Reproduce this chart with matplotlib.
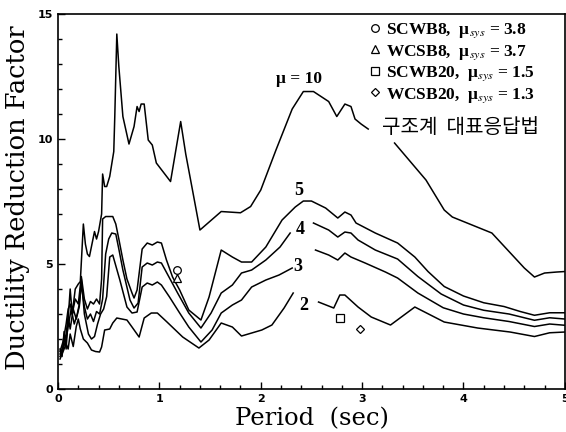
import numpy as np
import matplotlib
matplotlib.use('Agg')
import matplotlib.pyplot as plt
from matplotlib.ticker import MultipleLocator

nan = np.nan

# mu = 10
mu10_T = [0.02, 0.04, 0.06, 0.08, 0.10, 0.12, 0.14, 0.17, 0.20, 0.22, 0.25, 0.27, 0.29, 0.31, 0.34, 0.36,
          0.38, 0.40, 0.43, 0.44, 0.46, 0.48, 0.51, 0.53, 0.55, 0.56, 0.58, 0.60, 0.64, 0.70, 0.75, 0.78,
          0.80, 0.82, 0.85, 0.89, 0.93, 0.97, 1.11, 1.21, 1.26, 1.32, 1.40, 1.61, 1.80, 1.90, 2.00, 2.15,
          2.31, 2.42, 2.52, 2.67, 2.75, 2.83, 2.89, 2.93, 2.99, 3.06, nan, 3.32, 3.63, 3.81, 3.89, 4.28,
          4.60, 4.70, 4.80, 4.92, 5.00]
mu10_R = [1.6, 1.3, 2.3, 1.6, 2.8, 4.0, 3.0, 4.0, 4.2, 4.3, 6.6, 5.8, 5.4, 5.3, 5.9, 6.3,
          6.0, 6.3, 7.0, 8.6, 8.1, 8.1, 8.5, 9.0, 9.5, 10.9, 14.2, 12.9, 10.9, 9.8, 10.5, 11.3,
          11.1, 11.4, 11.4, 9.96, 9.76, 9.04, 8.3, 10.7, 9.4, 8.1, 6.36, 7.1, 7.05, 7.3, 7.96, 9.56,
          11.2, 11.9, 11.9, 11.5, 10.9, 11.4, 11.3, 10.8, 10.6, 10.4, nan, 9.84, 8.36, 7.16, 6.88, 6.24,
          4.84, 4.48, 4.64, 4.68, 4.7]

# mu = 5
mu5_T = [0.02, 0.05, 0.08, 0.10, 0.12, 0.14, 0.17, 0.20, 0.23, 0.26, 0.29, 0.32, 0.35, 0.38, 0.41, 0.43,
         0.44, 0.47, 0.50, 0.54, 0.57, 0.60, 0.64, 0.68, 0.73, 0.75, 0.78, 0.83, 0.88, 0.93, 0.98, 1.02,
         1.07, 1.13, 1.20, 1.29, 1.41, 1.49, 1.61, 1.72, 1.81, 1.91, 2.05, 2.21, 2.34, 2.42, 2.50, 2.64,
         2.76, 2.83, 2.89, 2.94, 3.13, 3.35, 3.52, 3.65, 3.81, 4.00, 4.20, 4.40, 4.56, 4.70, 4.85, 5.00]
mu5_R = [1.5, 1.9, 2.6, 3.2, 3.4, 3.0, 3.6, 3.4, 4.5, 3.6, 3.2, 3.5, 3.4, 3.6, 3.4, 4.4,
         6.8, 6.9, 6.9, 6.9, 6.6, 6.0, 5.16, 4.4, 3.84, 3.64, 3.96, 5.6, 5.84, 5.76, 5.88, 5.84,
         5.16, 4.48, 3.96, 3.16, 2.76, 3.68, 5.56, 5.28, 5.08, 5.08, 5.68, 6.76, 7.28, 7.52, 7.52, 7.24,
         6.84, 7.08, 6.96, 6.64, 6.24, 5.84, 5.28, 4.7, 4.1, 3.72, 3.45, 3.3, 3.1, 2.95, 3.05, 3.05]

# mu = 4
mu4_T = [0.02, 0.05, 0.08, 0.10, 0.12, 0.15, 0.18, 0.21, 0.23, 0.26, 0.29, 0.32, 0.35, 0.38, 0.41, 0.44,
         0.47, 0.50, 0.53, 0.57, 0.60, 0.64, 0.71, 0.75, 0.79, 0.83, 0.88, 0.93, 0.98, 1.02, 1.10, 1.18,
         1.29, 1.41, 1.51, 1.61, 1.72, 1.81, 1.91, 2.05, 2.19, 2.29, nan, 2.52, 2.67, 2.76, 2.83, 2.89,
         2.96, 3.13, 3.35, 3.55, 3.78, 4.00, 4.20, 4.45, 4.70, 4.85, 5.00]
mu4_R = [1.4, 1.7, 2.2, 2.9, 2.4, 3.2, 2.8, 3.3, 4.2, 3.3, 2.8, 3.0, 2.7, 3.1, 3.0, 3.6,
         5.4, 6.0, 6.24, 6.2, 5.6, 4.76, 3.56, 3.24, 3.44, 4.88, 5.04, 4.96, 5.08, 5.04, 4.44, 3.84,
         3.04, 2.44, 3.04, 3.84, 4.16, 4.64, 4.76, 5.16, 5.68, 6.24, nan, 6.64, 6.36, 6.08, 6.28, 6.24,
         5.96, 5.56, 5.2, 4.5, 3.8, 3.36, 3.15, 3.0, 2.75, 2.85, 2.8]

# mu = 3
mu3_T = [0.02, 0.05, 0.08, 0.10, 0.13, 0.16, 0.19, 0.21, 0.23, 0.26, 0.30, 0.33, 0.36, 0.39, 0.42, 0.45,
         0.48, 0.51, 0.54, 0.61, 0.68, 0.73, 0.78, 0.83, 0.88, 0.93, 0.98, 1.02, 1.10, 1.20, 1.29, 1.41,
         1.52, 1.61, 1.72, 1.81, 1.91, 2.05, 2.18, 2.31, nan, 2.54, 2.67, 2.76, 2.83, 2.89, 3.03, 3.23,
         3.35, 3.55, 3.80, 4.00, 4.20, 4.45, 4.70, 4.85, 5.00]
mu3_R = [1.3, 1.6, 2.0, 2.5, 3.2, 2.6, 3.0, 3.4, 4.4, 3.0, 2.2, 2.0, 2.1, 2.6, 3.0, 3.2,
         3.7, 5.28, 5.36, 4.36, 3.28, 3.04, 3.08, 4.08, 4.24, 4.16, 4.28, 4.16, 3.68, 3.04, 2.48, 1.88,
         2.36, 3.04, 3.36, 3.56, 4.08, 4.36, 4.56, 4.84, nan, 5.56, 5.36, 5.16, 5.44, 5.28, 5.04, 4.68,
         4.44, 3.84, 3.25, 3.0, 2.85, 2.7, 2.5, 2.6, 2.55]

# mu = 2
mu2_T = [0.02, 0.05, 0.08, 0.10, 0.12, 0.15, 0.18, 0.20, 0.22, 0.25, 0.29, 0.33, 0.37, 0.41, 0.43, 0.46,
         0.51, 0.54, 0.58, 0.68, 0.73, 0.80, 0.85, 0.92, 0.98, 1.07, 1.23, 1.39, 1.49, 1.61, 1.72, 1.81,
         2.01, 2.11, 2.23, 2.32, nan, 2.57, 2.72, 2.78, 2.83, 2.96, 3.09, 3.28, 3.52, 3.81, 4.14, 4.46,
         4.70, 4.85, 5.00]
mu2_R = [1.2, 1.5, 1.8, 1.6, 2.2, 1.7, 2.5, 2.8, 2.4, 2.0, 1.84, 1.56, 1.5, 1.48, 1.68, 2.36,
         2.40, 2.64, 2.84, 2.76, 2.48, 2.08, 2.84, 3.04, 3.04, 2.7, 2.08, 1.64, 1.96, 2.64, 2.48, 2.12,
         2.36, 2.56, 3.24, 3.84, nan, 3.48, 3.24, 3.76, 3.76, 3.28, 2.88, 2.56, 3.28, 2.68, 2.44, 2.28,
         2.1, 2.25, 2.28]

# system results
sys_names = ['SCWB8', 'WCSB8', 'SCWB20', 'WCSB20']
sys_mu = [3.8, 3.7, 1.5, 1.3]
sys_T = [1.17, 1.17, 2.78, 2.98]
sys_R = [4.76, 4.45, 2.84, 2.40]
sys_markers = ['o', '^', 's', 'D']

curve_labels = ['\u03bc = 10', '5', '4', '3', '2']
label_T = [2.38, 2.37, 2.39, 2.37, 2.42]
label_R = [12.4, 7.95, 6.4, 4.9, 3.35]

fig = plt.figure(figsize=(5.66, 4.32), dpi=100)
ax = fig.add_axes([0.1025, 0.0995, 0.8955, 0.868])

for T, R in [(mu10_T, mu10_R), (mu5_T, mu5_R), (mu4_T, mu4_R), (mu3_T, mu3_R), (mu2_T, mu2_R)]:
    ax.plot(T, R, color='black', lw=1.1)

handles = []
for i in range(4):
    ms = 5.5 if sys_markers[i] != 'D' else 4.5
    h, = ax.plot(sys_T[i], sys_R[i], linestyle='none', marker=sys_markers[i], ms=ms,
                 mfc='white', mec='black', mew=0.9)
    handles.append(h)

labels = ['%s,  \u03bc$_{sys}$ = %.1f' % (n, m) for n, m in zip(sys_names, sys_mu)]
plt.rcParams['mathtext.fontset'] = 'stix'
leg = ax.legend(handles, labels, loc='upper right', bbox_to_anchor=(0.965, 1.012), frameon=False,
                prop={'family': 'Liberation Serif', 'size': 12.5, 'weight': 'bold'},
                handlelength=0.6, handletextpad=0.35, labelspacing=0.17, borderpad=0.2)

for s, t, r in zip(curve_labels, label_T, label_R):
    fs = 12.5 if s.startswith('\u03bc') else 13
    ax.text(t, r, s, ha='center', va='center', fontsize=fs, fontweight='bold', family='Liberation Serif')

ax.text(3.2, 10.45, '구조계  대표응답법', ha='left', va='center', fontsize=14.5,
        family=['Noto Sans CJK KR', 'DejaVu Sans'])

ax.set_xlim(0, 5)
ax.set_ylim(0, 15)
ax.xaxis.set_major_locator(MultipleLocator(1))
ax.xaxis.set_minor_locator(MultipleLocator(0.2))
ax.yaxis.set_major_locator(MultipleLocator(5))
ax.yaxis.set_minor_locator(MultipleLocator(1))
ax.tick_params(which='both', direction='in', top=False, right=False, width=1)
ax.tick_params(which='major', length=5, labelsize=8)
ax.tick_params(which='minor', length=3)
for lab in ax.get_xticklabels() + ax.get_yticklabels():
    lab.set_fontweight('bold')
for sp in ax.spines.values():
    sp.set_linewidth(1.2)

ax.set_xlabel('Period  (sec)', family='DejaVu Serif', fontsize=17.5)
ax.xaxis.set_label_coords(0.5, -0.048, transform=ax.transAxes)
ax.xaxis.label.set_va('top')
ax.set_ylabel('Ductility Reduction Factor', family='DejaVu Serif', fontsize=18.5)
ax.yaxis.set_label_coords(-0.079, 0.51, transform=ax.transAxes)
ax.yaxis.label.set_va('center')

fig.savefig('out.png', dpi=100)
